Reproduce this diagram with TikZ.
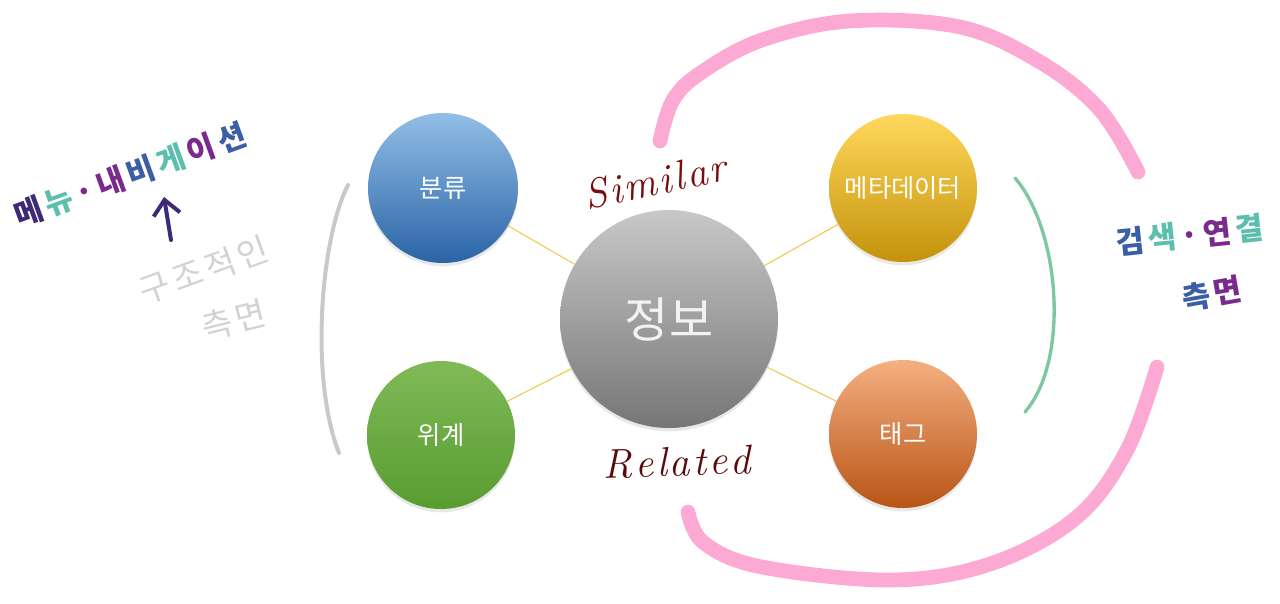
\documentclass[tikz,border=0pt]{standalone}
\usepackage{fontspec}
\newfontfamily\kr{Noto Sans CJK KR}
\usetikzlibrary{shadows,arrows.meta}
\definecolor{linkyellow}{HTML}{F2C94C}
\definecolor{penpink}{HTML}{FCA9D4}
\definecolor{pengray}{HTML}{C9C9C9}
\definecolor{penlight}{HTML}{D2D2D2}
\definecolor{pengreen}{HTML}{7CC8A0}
\definecolor{inkred}{HTML}{7A0C0C}
\definecolor{hpurple}{HTML}{7A2A8C}
\definecolor{hteal}{HTML}{5CBFAE}
\definecolor{hblue}{HTML}{3B5EA6}
\definecolor{hnavy}{HTML}{3C2A78}
\newcommand{\hgap}{\kern2pt}
\newcommand{\kgap}{\kern3pt}
\tikzset{
    bubble/.style={circle, inner sep=0pt, outer sep=0pt, text=white,
        font=\kr\fontsize{19}{21}\selectfont,
        drop shadow={opacity=0.18, shadow xshift=0pt, shadow yshift=-2.5pt}},
    link/.style={draw=linkyellow, line width=0.8pt},
    marker/.style={line cap=round, line join=round},
    handkr/.style={font=\kr\bfseries\fontsize{23}{25}\selectfont, inner sep=0pt},
    handen/.style={font=\itshape\fontsize{31}{33}\selectfont, text=inkred, inner sep=0pt}
}
\begin{document}
\begin{tikzpicture}[x=0.75pt,y=-0.75pt]
    \fill[white] (0,0) rectangle (1280,603);
    \useasboundingbox (0,0) rectangle (1280,603);
    % circles
    \node[bubble, minimum size=163.5pt, top color={rgb,255:red,200;green,200;blue,200},
        bottom color={rgb,255:red,118;green,118;blue,118},
        font=\kr\fontsize{36}{38}\selectfont, text={rgb,255:red,242;green,242;blue,242}]
        (jeongbo) at (669,319) {정보};
    \node[bubble, minimum size=112.5pt, top color={rgb,255:red,146;green,190;blue,230},
        middle color={rgb,255:red,92;green,154;blue,212}, bottom color={rgb,255:red,42;green,100;blue,166}]
        (bunryu) at (443,188) {분류};
    \node[bubble, minimum size=111pt, top color={rgb,255:red,128;green,186;blue,88},
        middle color={rgb,255:red,108;green,172;blue,66}, bottom color={rgb,255:red,88;green,156;blue,48}]
        (wigye) at (441,435) {위계};
    \node[bubble, minimum size=111pt, top color={rgb,255:red,255;green,216;blue,92},
        middle color={rgb,255:red,253;green,190;blue,16}, bottom color={rgb,255:red,196;green,146;blue,10}]
        (meta) at (903,188) {메타데이터};
    \node[bubble, minimum size=111pt, top color={rgb,255:red,244;green,176;blue,128},
        middle color={rgb,255:red,236;green,128;blue,56}, bottom color={rgb,255:red,184;green,84;blue,22}]
        (tag) at (903,434) {태그};
    % links
    \draw[link] (jeongbo) -- (bunryu);
    \draw[link] (jeongbo) -- (wigye);
    \draw[link] (jeongbo) -- (meta);
    \draw[link] (jeongbo) -- (tag);
    % pen strokes
    \draw[marker, penpink, line width=11pt] plot[smooth, tension=0.6] coordinates
        {(660,141) (673,100) (702,72) (762,40) (850,21) (960,27) (1040,62) (1100,110) (1138,172)};
    \draw[marker, penpink, line width=11pt] plot[smooth, tension=0.6] coordinates
        {(688,512) (704,543) (762,567) (893,580) (993,563) (1077,517) (1127,450) (1157,367)};
    \draw[marker, pengray, line width=3pt] (348,185) .. controls (320,240) and (310,380) .. (339,453);
    \draw[marker, pengreen, line width=2.5pt] (1015,178) .. controls (1060,230) and (1070,360) .. (1025,412);
    % labels
    \node[handen, rotate=12] (similar) at (655,181) {S\hgap i\hgap m\hgap i\hgap l\hgap a\hgap r};
    \node[handen, text={rgb,255:red,90;green,8;blue,8}, rotate=2] (related) at (677,462) {R\hgap e\hgap l\hgap a\hgap t\hgap e\hgap d};
    \node[handkr, rotate=20] (menu) at (130,175)
        {\textcolor{hnavy}{메}\kgap\textcolor{hteal}{뉴}\kgap\textcolor{hpurple}{·}\kgap\textcolor{hpurple}{내}\kgap\textcolor{hblue}{비}\kgap\textcolor{hteal}{게}\kgap\textcolor{hpurple}{이}\kgap\textcolor{hblue}{션}};
    \node[handkr, text=penlight, rotate=20, font=\kr\fontsize{25}{27}\selectfont] (gujo) at (204,270) {구\kgap 조\kgap 적\kgap 인};
    \node[handkr, text=penlight, rotate=14, font=\kr\fontsize{25}{27}\selectfont] (gujoside) at (234,320) {측\kgap 면};
    \node[handkr, rotate=6] (search) at (1190,235)
        {\textcolor{hblue}{검}\kgap\textcolor{hteal}{색}\kgap\textcolor{hpurple}{·}\kgap\textcolor{hpurple}{연}\kgap\textcolor{hteal}{결}};
    \node[handkr, rotate=10] (searchside) at (1212,294) {\textcolor{hblue}{측}\kgap\textcolor{hpurple}{면}};
    \coordinate (arrowfoot) at (171,240);
    \coordinate (arrowtip) at (164,197);
    \draw[hnavy, line width=3pt, line cap=round, -{Straight Barb[length=11pt, width=20pt]}] (arrowfoot) -- (arrowtip);
\end{tikzpicture}
\end{document}
